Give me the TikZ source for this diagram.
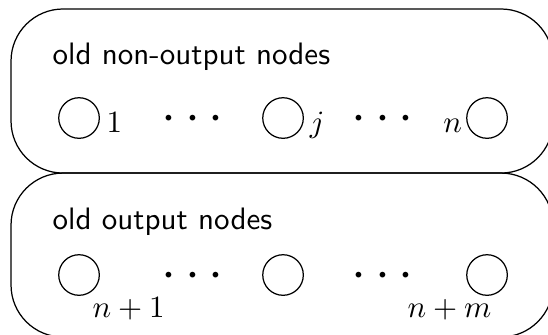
\documentclass[tikz,border=0pt]{standalone}

\tikzset{
  every unit/.style={circle, draw, minimum size=4.6mm, inner sep=0pt},
  group/.style={draw, rounded corners=5.9mm},
  heading/.style={font=\sffamily, anchor=base west, inner sep=0pt},
  dots/.style={font=\LARGE, anchor=base, inner sep=0pt},
  tag/.style={inner sep=0pt}
}

\begin{document}
\begin{tikzpicture}

\useasboundingbox (0,0) rectangle (6.213,3.787);

% the two groups of old nodes
\draw [group] (0.125,3.685) rectangle (6.27,1.825);
\draw [group] (0.125,1.825) rectangle (6.27,-0.034);

\node [heading] (title-old) at (0.59,3.061) {old non-output nodes};
\node [heading] (title-out) at (0.59,1.190) {old output nodes};

\foreach \m [count=\i from 0] in {1,j,n}
  \node [every unit] (old-\m) at (0.896+2.313*\i,2.449) {};

\foreach \m [count=\i from 0] in {1,k,m}
  \node [every unit] (out-\m) at (0.896+2.313*\i,0.669) {};

\foreach \x [count=\i] in {2.183,4.337} {
  \node [dots] (old-dots-\i) at (\x,2.293) {$\cdots$};
  \node [dots] (out-dots-\i) at (\x,0.513) {$\cdots$};
}

  \node [tag, anchor=base west] (tag-1) at ([xshift=0.7mm, yshift=-1.6mm]old-1.east) {$1$};
  \node [tag, anchor=base west] (tag-j) at ([xshift=0.6mm, yshift=-1.6mm]old-j.east) {$j$};
  \node [tag, anchor=base east] (tag-n) at ([xshift=-0.4mm, yshift=-1.6mm]old-n.west) {$n$};

  \node [tag, anchor=base west] (tag-n1) at ([xshift=1.47mm, yshift=-2.44mm]out-1.south) {$n+1$};
  \node [tag, anchor=base east] (tag-nm) at ([xshift=0.56mm, yshift=-2.44mm]out-m.south) {$n+m$};

\end{tikzpicture}
\end{document}
